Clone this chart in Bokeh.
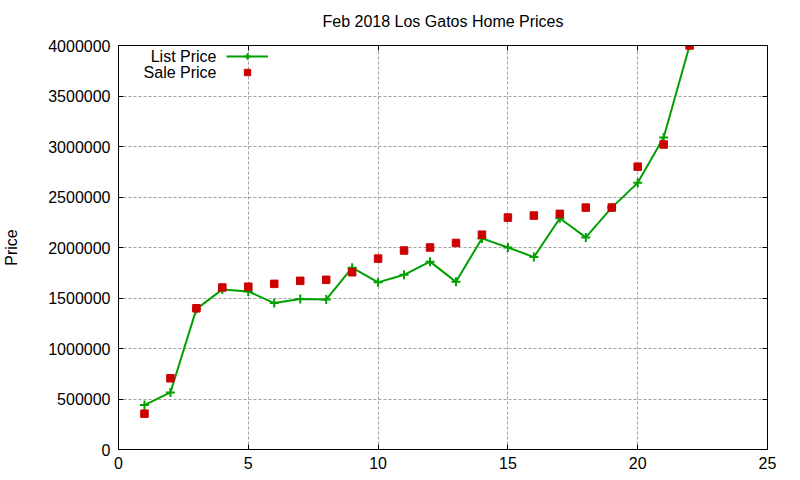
from bokeh.plotting import figure
from bokeh.models import (LinearAxis, FixedTicker, BasicTickFormatter, Legend, LegendItem,
                          Range1d, Label)
from bokeh.core.properties import value
from bokeh.embed import file_html
from bokeh.resources import INLINE

# ---- data ----
home_index = list(range(1, 23))
list_price = [440000, 565000, 1390000, 1585000, 1565000, 1450000, 1490000, 1485000,
              1800000, 1655000, 1730000, 1860000, 1660000, 2090000, 2000000, 1905000,
              2290000, 2100000, 2395000, 2640000, 3090000, 4000000]
sale_price = [355000, 705000, 1398000, 1604000, 1612000, 1640000, 1670000, 1680000,
              1755000, 1890000, 1970000, 2000000, 2045000, 2127000, 2296000, 2316000,
              2333000, 2395000, 2395000, 2800000, 3020000, 4000000]
x_ticks = [0, 5, 10, 15, 20, 25]
y_ticks = [0, 500000, 1000000, 1500000, 2000000, 2500000, 3000000, 3500000, 4000000]
series_names = ["List Price", "Sale Price"]
title_text = "Feb 2018 Los Gatos Home Prices"

FONT = "Liberation Sans"
GREEN = "#00a000"
RED = "#cc0000"

p = figure(frame_width=649, frame_height=404,
           x_range=Range1d(0, 25), y_range=Range1d(0, 4000000),
           output_backend="svg", toolbar_location=None,
           min_border_left=118, min_border_right=33, min_border_top=45, min_border_bottom=31)
p.background_fill_color = "white"
p.border_fill_color = "white"
p.outline_line_color = "black"
p.outline_line_width = 1

# title
p.title.text = title_text
p.title.align = "center"
p.title.text_font = FONT
p.title.text_font_size = "16px"
p.title.text_font_style = "normal"
p.title.text_color = "black"

def style_axis(ax, labels=True):
    ax.axis_line_color = "black"
    ax.major_tick_in = 5
    ax.major_tick_out = 0
    ax.minor_tick_line_color = None
    ax.major_tick_line_color = "black"
    ax.major_label_text_font = FONT
    ax.major_label_text_color = "black"
    ax.major_label_text_font_size = "16px"
    if not labels:
        ax.major_label_text_color = None
        ax.major_label_text_font_size = "0px"
        ax.major_label_standoff = 0

xax = p.xaxis[0]
xax.ticker = FixedTicker(ticks=x_ticks)
style_axis(xax)
xax.major_label_standoff = 7

yax = p.yaxis[0]
yax.ticker = FixedTicker(ticks=y_ticks)
yax.formatter = BasicTickFormatter(use_scientific=False)
style_axis(yax)
yax.major_label_standoff = 8
yax.axis_label = "Price"
yax.axis_label_text_font = FONT
yax.axis_label_text_font_size = "16px"
yax.axis_label_text_font_style = "normal"
yax.axis_label_text_color = "black"
yax.axis_label_standoff = 25

# mirror axes (ticks only)
rax = LinearAxis(ticker=FixedTicker(ticks=y_ticks))
style_axis(rax, labels=False)
p.add_layout(rax, "right")
tax = LinearAxis(ticker=FixedTicker(ticks=x_ticks))
style_axis(tax, labels=False)
p.add_layout(tax, "above")

# invisible spacer axis: leaves the gnuplot-like gap between title and frame
spacer = LinearAxis(ticker=FixedTicker(ticks=x_ticks))
style_axis(spacer, labels=False)
spacer.axis_line_color = None
spacer.major_tick_line_color = None
spacer.major_tick_in = 0
spacer.major_tick_out = 11
p.add_layout(spacer, "above")

# grid
for g in (p.xgrid[0], p.ygrid[0]):
    g.grid_line_color = "#a0a0a0"
    g.grid_line_dash = "3 2"
    g.grid_line_width = 1
p.xgrid[0].ticker = FixedTicker(ticks=x_ticks)
p.ygrid[0].ticker = FixedTicker(ticks=y_ticks)

# series
l_line = p.line(home_index, list_price, line_color=GREEN, line_width=2)
l_pts = p.scatter(home_index, list_price, marker="cross", size=9, line_color=GREEN, line_width=2)
s_pts = p.scatter(home_index, sale_price, marker="square", size=7.5,
                  fill_color=RED, line_color=RED)

# gnuplot-style key: text right-aligned, sample to the right
legend = Legend(items=[LegendItem(label=value(""), renderers=[l_line, l_pts]),
                       LegendItem(label=value(""), renderers=[s_pts])],
                location=(108, 369), orientation="vertical")
legend.glyph_width = 42
legend.glyph_height = 16
legend.label_height = 10
legend.label_width = 0
legend.label_standoff = 0
legend.spacing = 0
legend.padding = 0
legend.margin = 0
legend.label_text_font_size = "10px"
legend.background_fill_alpha = 0
legend.border_line_alpha = 0
p.add_layout(legend, "center")

for name, ypos in zip(series_names, (393, 377)):
    p.add_layout(Label(x=98, y=ypos, x_units="screen", y_units="screen", text=name,
                       text_align="right", text_baseline="middle",
                       text_font=FONT, text_font_size="16px", text_color="black"))

open("out.html", "w").write(file_html(p, INLINE))
